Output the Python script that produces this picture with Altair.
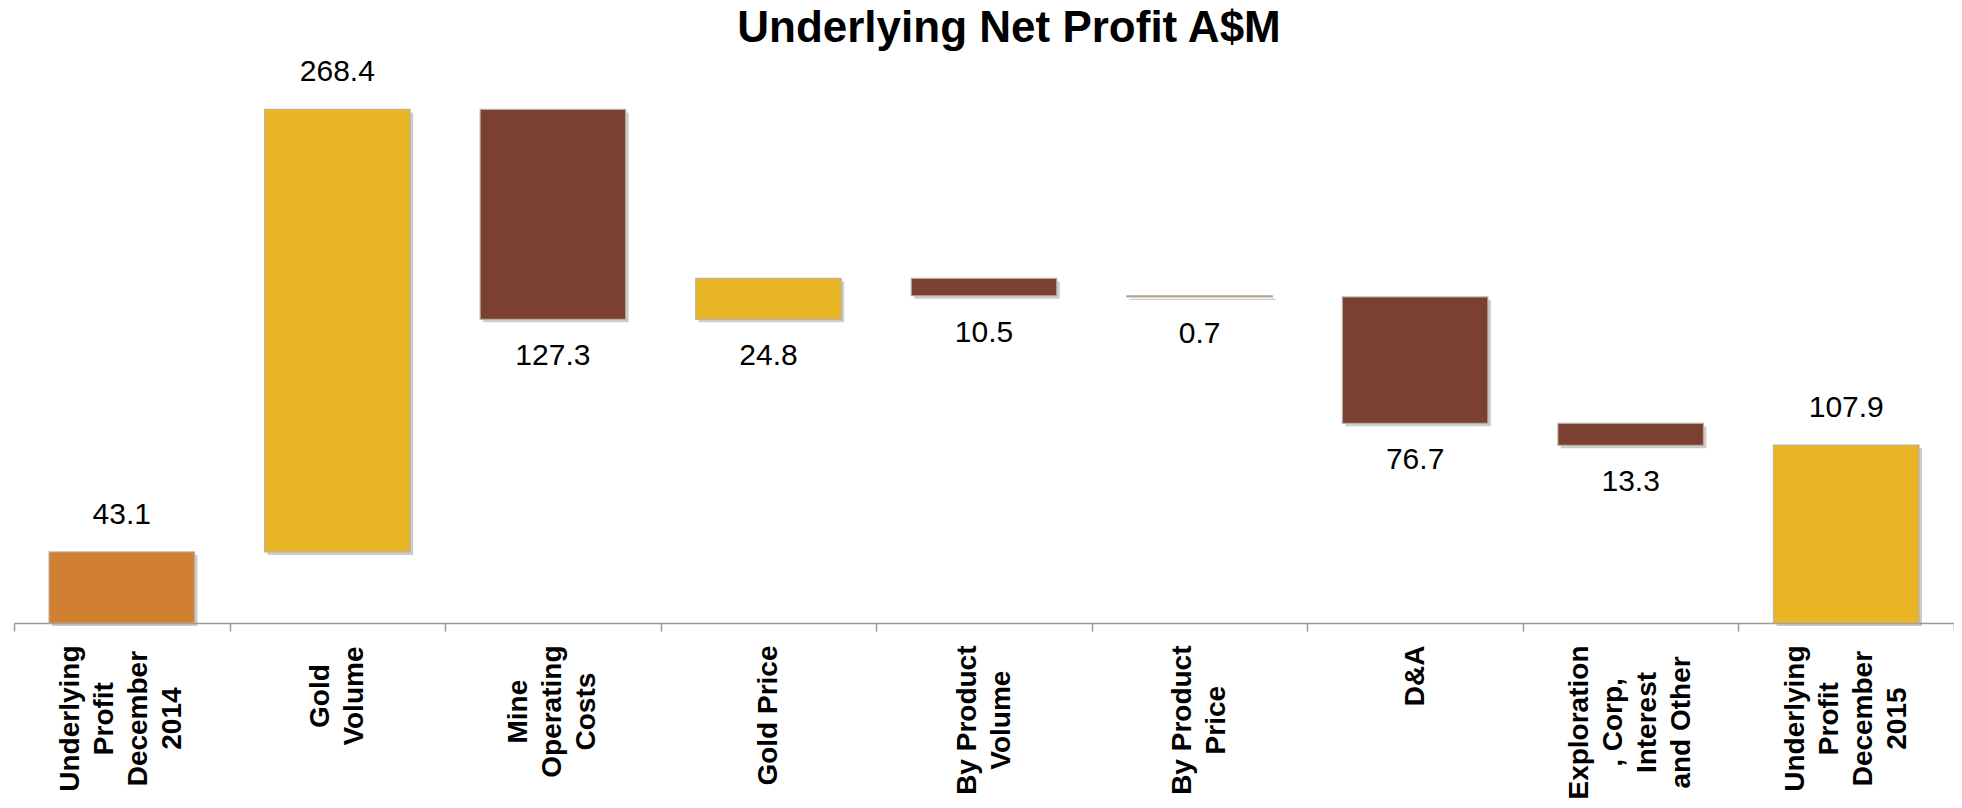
import altair as alt
import pandas as pd

# ---- data ----
categories = [
    "Underlying\nProfit\nDecember\n2014",
    "Gold\nVolume",
    "Mine\nOperating\nCosts",
    "Gold Price",
    "By Product\nVolume",
    "By Product\nPrice",
    "D&A",
    "Exploration\n, Corp,\nInterest\nand Other",
    "Underlying\nProfit\nDecember\n2015",
]
values = [43.1, 268.4, -127.3, 24.8, -10.5, -0.7, -76.7, -13.3, 107.9]
kinds = ["total", "delta", "delta", "delta", "delta", "delta", "delta", "delta", "total"]
bar_colors = ["#D08030", "#E8B525", "#7C4032", "#E8B525", "#7C4032",
              "#7C4032", "#7C4032", "#7C4032", "#E8B525"]
label_side = ["above", "above", "below", "below", "below", "below", "below", "below", "above"]

# ---- waterfall table ----
rows = []
running = 0.0
for i, (c, v, k) in enumerate(zip(categories, values, kinds)):
    if k == "total":
        lo, hi = 0.0, v
        running = v
    else:
        start = running
        end = running + v
        lo, hi = min(start, end), max(start, end)
        running = end
    rows.append({
        "order": i,
        "category": c,
        "lo": lo,
        "hi": hi,
        "label": f"{abs(v):.1f}",
        "color": bar_colors[i],
        "side": label_side[i],
        "label_y": hi if label_side[i] == "above" else lo,
    })
df = pd.DataFrame(rows)

FONT = "Liberation Sans"
LABEL_FS = 28
LINE_H = 34
LABEL_TOP = 14  # gap between tick end and the top of the longest label line

# approximate bold Arial/Liberation advance widths (per 1000 em) for centring the label blocks
_BW = {" ": 278, ",": 278, "&": 722, "A": 722, "B": 722, "C": 722, "D": 722, "E": 667,
       "G": 778, "I": 278, "M": 833, "O": 778, "P": 667, "U": 722, "V": 667,
       "a": 556, "b": 611, "c": 556, "d": 611, "e": 556, "f": 333, "g": 611, "h": 611,
       "i": 278, "l": 278, "m": 889, "n": 611, "o": 611, "p": 611, "r": 389, "s": 556,
       "t": 333, "u": 611, "x": 556, "y": 556}

def text_w(s):
    return sum(_BW.get(ch, 556) for ch in s) * LABEL_FS / 1000.0

def esc(s):
    return s.replace("\\", "\\\\").replace("'", "\\'").replace("\n", "\\n")

pad_conditions = []
offset_conditions = []
for c in categories:
    lines = c.split("\n")
    longest = max(text_w(l) for l in lines)
    pad_conditions.append({"test": f"datum.label == '{esc(c)}'", "value": LABEL_TOP + longest / 2})
    offset_conditions.append({"test": f"datum.label == '{esc(c)}'", "value": -(len(lines) - 1) * LINE_H / 2})

x_enc = alt.X(
    "category:N",
    sort=categories,
    scale=alt.Scale(paddingInner=0, paddingOuter=0),
    axis=alt.Axis(
        title=None,
        labelAngle=270,
        labelAlign="center",
        labelBaseline="middle",
        labelFont=FONT,
        labelFontSize=LABEL_FS,
        labelFontWeight="bold",
        labelColor="black",
        labelLineHeight=LINE_H,
        labelPadding={"condition": pad_conditions, "value": LABEL_TOP},
        labelOffset={"condition": offset_conditions, "value": 0},
        labelExpr="split(datum.label, '\\n')",
        labelOverlap=False,
        labelLimit=0,
        domainColor="#9a9a9a",
        domainWidth=1.5,
        tickColor="#9a9a9a",
        tickWidth=1.5,
        tickSize=8,
        tickBand="extent",
    ),
)
y_scale = alt.Scale(domain=[0, 350], nice=False, zero=True)
BAR_W = alt.RelativeBandSize(0.675)

base = alt.Chart(df)

shadow = base.mark_bar(
    color="#8f8f8f", opacity=0.45, width=BAR_W,
    xOffset=3, yOffset=3, x2Offset=3, y2Offset=3,
).encode(
    x=x_enc,
    y=alt.Y("lo:Q", scale=y_scale, axis=None),
    y2="hi:Q",
)

bars = base.mark_bar(
    stroke="#b9ad9c", strokeWidth=1.2, strokeOpacity=0.9, width=BAR_W,
).encode(
    x=x_enc,
    y=alt.Y("lo:Q", scale=y_scale, axis=None),
    y2="hi:Q",
    color=alt.Color("color:N", scale=None),
)

labels_above = base.transform_filter(alt.datum.side == "above").mark_text(
    font=FONT, fontSize=30, color="black", baseline="middle", dy=-37
).encode(
    x=x_enc,
    y=alt.Y("label_y:Q", scale=y_scale, axis=None),
    text="label:N",
)

labels_below = base.transform_filter(alt.datum.side == "below").mark_text(
    font=FONT, fontSize=30, color="black", baseline="middle", dy=37
).encode(
    x=x_enc,
    y=alt.Y("label_y:Q", scale=y_scale, axis=None),
    text="label:N",
)

chart = alt.layer(shadow, bars, labels_above, labels_below).properties(
    width=1940,
    height=577,
    title=alt.TitleParams(
        "Underlying Net Profit A$M",
        font=FONT,
        fontSize=44,
        fontWeight="bold",
        color="black",
        anchor="middle",
        baseline="alphabetic",
        offset=3,
        dx=25,
        dy=43,
    ),
    padding={"left": 6, "top": 38, "right": 0, "bottom": 177},
    autosize=alt.AutoSizeParams(type="none"),
    background="white",
).configure_view(stroke=None)

chart.save("out.html", embed_options={"renderer": "svg", "actions": False})
